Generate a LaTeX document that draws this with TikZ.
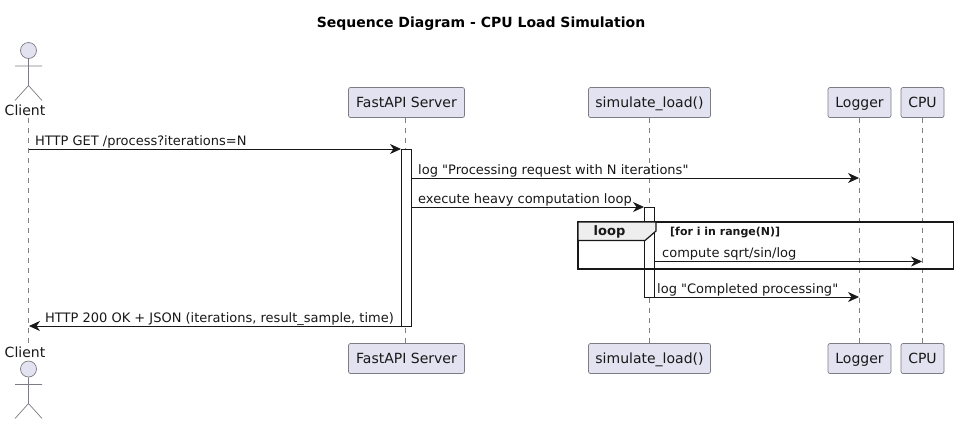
\documentclass[tikz,border=0pt]{standalone}
\usepackage{fontspec}
\setmainfont{DejaVu Sans}[Ligatures=TeXOff]
\usetikzlibrary{arrows.meta}
\definecolor{partfill}{HTML}{E2E2F0}
\definecolor{partline}{HTML}{7C7C84}
\definecolor{lifeline}{HTML}{808080}
\definecolor{tabfill}{HTML}{EEEEEE}
\definecolor{ink}{HTML}{181818}
\tikzset{
  x=1pt,y=-1pt,
  part/.style={draw=partline,fill=partfill,rounded corners=2pt,line width=0.7pt,minimum height=30pt,inner xsep=0pt,inner ysep=0pt,text height=10pt,text depth=0pt,font=\fontsize{14}{16}\selectfont,text=ink,anchor=center},
  life/.style={draw=lifeline,line width=0.6pt,dash pattern=on 5pt off 5pt},
  msg/.style={draw=ink,line width=0.8pt,-{Stealth[length=11pt,width=10pt,inset=3.5pt]},shorten >=0.5pt},
  lab/.style={anchor=base west,inner sep=0pt,font=\fontsize{13}{15}\selectfont,text=ink},
  actbox/.style={draw=ink,fill=white,line width=0.8pt,minimum width=10pt,inner sep=0pt,anchor=north},
  actor/.style={draw=partline,line width=0.7pt},
  actorhead/.style={draw=partline,fill=partfill,line width=0.7pt,circle,minimum size=16pt,inner sep=0pt},
  actorname/.style={inner sep=0pt,font=\fontsize{14}{16}\selectfont,text=ink}
}
\begin{document}
\begin{tikzpicture}
\useasboundingbox (0,0) rectangle (958,424);
\node[font=\bfseries\fontsize{14}{16}\selectfont,text=black,inner sep=0pt] (title) at (481,23.5) {Sequence Diagram - CPU Load Simulation};
% participants
\node[part,minimum width=116pt] (ft) at (406.5,102.5) {FastAPI Server};
\node[part,minimum width=116pt] (fb) at (406.5,358.5) {FastAPI Server};
\node[part,minimum width=122pt] (st) at (649.5,102.5) {simulate\_load()};
\node[part,minimum width=122pt] (sb) at (649.5,358.5) {simulate\_load()};
\node[part,minimum width=63pt] (lt) at (859.5,102.5) {Logger};
\node[part,minimum width=63pt] (lb) at (859.5,358.5) {Logger};
\node[part,minimum width=43pt] (ct) at (922.5,102.5) {CPU};
\node[part,minimum width=43pt] (cb) at (922.5,358.5) {CPU};
% actors
\node[actorname] (at) at (25,110) {Client};
\node[actorname] (ab) at (25,352) {Client};
\node[actorhead] (ah1) at (28.5,50.5) {};
\node[actorhead] (ah2) at (28.5,369) {};
\draw[actor] (ah1.south) -- (28.5,85.5) -- (15,100.5) (28.5,85.5) -- (42,100.5) (15,66) -- (42,66);
\draw[actor] (ah2.south) -- (28.5,403.5) -- (15,418.5) (28.5,403.5) -- (42,418.5) (15,384.5) -- (42,384.5);
% lifelines
\coordinate (c1) at (28.5,118);
\coordinate (c2) at (28.5,343);
\coordinate (f1) at (405.5,117.5);
\coordinate (f2) at (405.5,343.5);
\draw[life] (c1) -- (c2);
\draw[life] (f1) -- (f2);
\draw[life] (st.south) -- (sb.north);
\draw[life] (lt.south) -- (lb.north);
\draw[life] (ct.south) -- (cb.north);
% activations
\node[actbox,minimum height=177pt] (a1) at (406.5,149) {};
\node[actbox,minimum height=90pt] (a2) at (649.5,207) {};
% anchors
\coordinate (m1a) at (28.5,149);
\coordinate (m1b) at (401.5,149);
\coordinate (m2a) at (411.5,178);
\coordinate (m2b) at (859.5,178);
\coordinate (m3a) at (411.5,207);
\coordinate (m3b) at (644.5,207);
\coordinate (m4a) at (654.5,261.5);
\coordinate (m4b) at (922.5,261.5);
\coordinate (m5a) at (654.5,297);
\coordinate (m5b) at (859.5,297);
\coordinate (m6a) at (401.5,326);
\coordinate (m6b) at (28.5,326);
% messages
\draw[msg] (m1a) -- (m1b);
\node[lab] (t1) at (35,145) {HTTP GET /process?iterations=N};
\draw[msg] (m2a) -- (m2b);
\node[lab] (t2) at (418,174) {log "Processing request with N iterations"};
\draw[msg] (m3a) -- (m3b);
\node[lab] (t3) at (418,203) {execute heavy computation loop};
\draw[msg] (m4a) -- (m4b);
\node[lab] (t4) at (662,257) {compute sqrt/sin/log};
\draw[msg] (m5a) -- (m5b);
\node[lab] (t5) at (657,293) {log "Completed processing"};
\draw[msg] (m6a) -- (m6b);
\node[lab] (t6) at (45,322) {HTTP 200 OK + JSON (iterations, result\_sample, time)};
% loop frame
\draw[draw=ink,line width=1.5pt] (578,222) rectangle (953.5,269);
\draw[draw=ink,line width=1.2pt,fill=tabfill] (578,222) -- (656,222) -- (656,231) -- (645,240.5) -- (578,240.5) -- cycle;
\node[inner sep=0pt,font=\bfseries\fontsize{13}{15}\selectfont,text=ink] (lp) at (609.5,231.5) {loop};
\node[lab,font=\bfseries\fontsize{11}{13}\selectfont] (lg) at (670,235) {[for i in range(N)]};
\end{tikzpicture}
\end{document}
